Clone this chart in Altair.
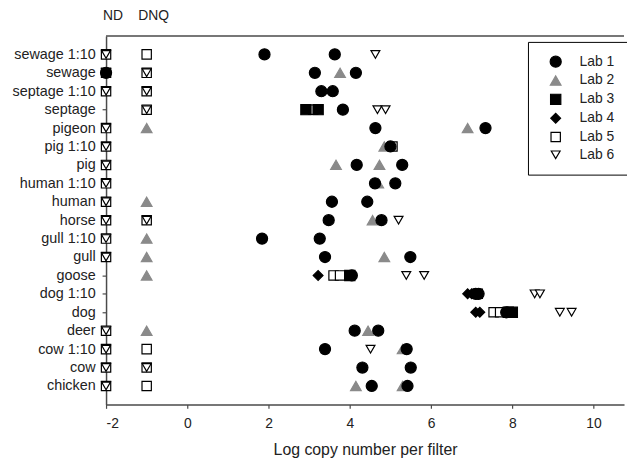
import altair as alt
import pandas as pd

categories = ["sewage 1:10", "sewage", "septage 1:10", "septage", "pigeon", "pig 1:10",
              "pig", "human 1:10", "human", "horse", "gull 1:10", "gull", "goose",
              "dog 1:10", "dog", "deer", "cow 1:10", "cow", "chicken"]
labs = ["Lab 1", "Lab 2", "Lab 3", "Lab 4", "Lab 5", "Lab 6"]
top_labels = ["ND", "DNQ"]
top_label_x = [-2, -1]
x_ticks = [-2, 0, 2, 4, 6, 8, 10]

ND = -2
DNQ = -1

# rows with non-detects (open markers) at ND
nd_rows = ["sewage 1:10", "sewage", "septage 1:10", "pigeon", "pig 1:10", "pig",
           "human 1:10", "human", "horse", "gull 1:10", "gull", "deer",
           "cow 1:10", "cow", "chicken"]

lab5_cat = nd_rows + ["sewage 1:10", "sewage", "septage 1:10", "septage", "horse",
                      "cow 1:10", "cow", "chicken",
                      "septage", "pig 1:10", "goose", "goose", "dog 1:10", "dog", "dog"]
lab5_val = [ND] * len(nd_rows) + [DNQ] * 8 + [3.1, 5.05, 3.6, 3.76, 7.15, 7.54, 7.7]

lab6_cat = nd_rows + ["sewage", "septage 1:10", "septage", "horse", "cow",
                      "sewage 1:10", "septage", "septage", "horse", "goose", "goose",
                      "dog 1:10", "dog 1:10", "dog", "dog", "cow 1:10"]
lab6_val = [ND] * len(nd_rows) + [DNQ] * 5 + [4.63, 4.68, 4.88, 5.2, 5.39, 5.83,
                                              8.55, 8.68, 9.17, 9.46, 4.51]

lab1_cat = ["sewage 1:10", "sewage 1:10", "sewage", "sewage", "sewage", "septage 1:10",
            "septage 1:10", "septage", "pigeon", "pigeon", "pig 1:10", "pig", "pig",
            "human 1:10", "human 1:10", "human", "human", "horse", "horse", "gull 1:10",
            "gull 1:10", "gull", "gull", "goose", "dog 1:10", "dog 1:10", "dog", "deer",
            "deer", "cow 1:10", "cow 1:10", "cow", "cow", "chicken", "chicken"]
lab1_val = [1.9, 3.63, ND, 3.14, 4.15, 3.3,
            3.58, 3.83, 4.63, 7.34, 5.0, 4.17, 5.29,
            4.62, 5.12, 3.56, 4.43, 3.48, 4.78, 1.84,
            3.26, 3.39, 5.49, 4.05, 7.1, 7.17, 7.85, 4.12,
            4.7, 3.39, 5.4, 4.31, 5.5, 4.54, 5.42]

lab2_cat = ["sewage", "pigeon", "pigeon", "pig 1:10", "pig", "pig", "human 1:10",
            "human", "horse", "gull 1:10", "gull", "gull", "goose", "deer", "deer",
            "cow 1:10", "chicken", "chicken"]
lab2_val = [3.76, DNQ, 6.9, 4.85, 3.66, 4.73, 4.7,
            DNQ, 4.56, DNQ, DNQ, 4.85, DNQ, DNQ, 4.45,
            5.3, 4.15, 5.3]

lab3_cat = ["septage", "septage", "goose", "dog", "dog"]
lab3_val = [2.92, 3.22, 4.0, 7.9, 8.0]

lab4_cat = ["goose", "dog 1:10", "dog 1:10", "dog", "dog"]
lab4_val = [3.22, 6.9, 7.0, 7.1, 7.2]

frames = []
for lab, cats, vals in [("Lab 5", lab5_cat, lab5_val), ("Lab 6", lab6_cat, lab6_val),
                        ("Lab 2", lab2_cat, lab2_val), ("Lab 1", lab1_cat, lab1_val),
                        ("Lab 3", lab3_cat, lab3_val), ("Lab 4", lab4_cat, lab4_val)]:
    frames.append(pd.DataFrame({"lab": lab, "cat": cats, "value": vals}))
df = pd.DataFrame(pd.concat(frames, ignore_index=True))

W, H = 523, 372
FONT = "Liberation Sans"
AX = "#4a4a4a"

x_scale = alt.Scale(domain=[-2, 10.75], nice=False, zero=False)

legend = alt.Legend(title=None, orient="none", legendX=426, legendY=6,
                    strokeColor="black", fillColor="white", padding=13,
                    labelFontSize=14, labelFont=FONT, labelColor="#222",
                    symbolStrokeWidth=1.2, rowPadding=3,
                    labelOffset=17, symbolOffset=8)

points = alt.Chart(df).mark_point(filled=True, strokeWidth=1.2, opacity=1).encode(
    x=alt.X("value:Q", scale=x_scale, title="Log copy number per filter",
            axis=alt.Axis(values=x_ticks, labelExpr="'' + datum.value", grid=False, tickSize=4,
                          labelFontSize=14, labelPadding=8, titleFontSize=16,
                          titleFontWeight="normal", titlePadding=12)),
    y=alt.Y("cat:N", sort=categories, title=None,
            scale=alt.Scale(type="point", domain=categories, padding=1.0),
            axis=alt.Axis(tickSize=4, labelFontSize=14.5, labelPadding=7, grid=False)),
    shape=alt.Shape("lab:N", scale=alt.Scale(domain=labs, range=[
        "circle", "triangle-up", "square", "diamond", "square", "triangle-down"]), legend=legend),
    fill=alt.Fill("lab:N", scale=alt.Scale(domain=labs, range=[
        "black", "#8a8a8a", "black", "black", "white", "white"]), legend=legend),
    stroke=alt.Stroke("lab:N", scale=alt.Scale(domain=labs, range=[
        "black", "#8a8a8a", "black", "black", "black", "black"]), legend=legend),
    size=alt.Size("lab:N", scale=alt.Scale(domain=labs, range=[
        125, 80, 85, 115, 70, 85]), legend=legend),
)

top_rule = alt.Chart(pd.DataFrame({"a": [0]})).mark_rule(color=AX, strokeWidth=1.5).encode(
    x=alt.value(0), x2=alt.value(W), y=alt.value(0)
)

top_text = alt.Chart(pd.DataFrame({"x": top_label_x, "t": top_labels})).mark_text(
    fontSize=14, font=FONT, color="#222", dx=7, baseline="middle"
).encode(x=alt.X("x:Q", scale=x_scale), y=alt.value(-20), text="t:N")

chart = alt.layer(points, top_rule, top_text).properties(
    width=W, height=H,
    autosize=alt.AutoSizeParams(type="none"),
    padding={"left": 99, "top": 26, "right": 3, "bottom": 62},
).configure_view(stroke=None).configure_axis(
    domainColor=AX, domainWidth=1.5, tickColor=AX, tickWidth=1.2,
    labelFont=FONT, titleFont=FONT, labelColor="#222", titleColor="#222"
)

chart.save("out.html", embed_options={"renderer": "svg", "actions": False})
